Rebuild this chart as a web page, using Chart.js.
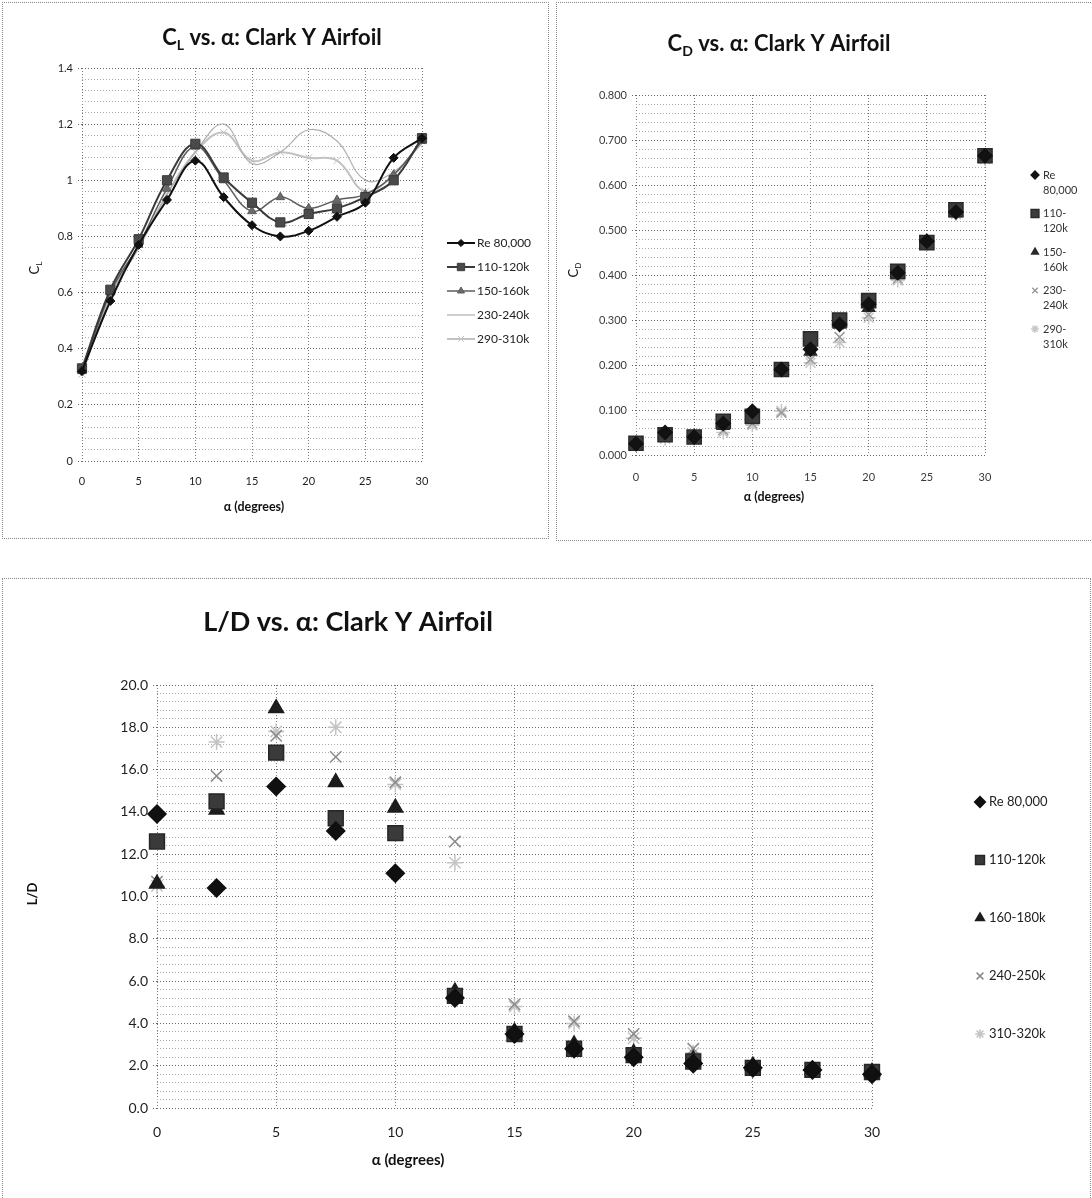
<!DOCTYPE html>
<html>
<head>
<meta charset="utf-8">
<title>Clark Y Airfoil</title>
<script src="https://cdn.jsdelivr.net/npm/chart.js@4.4.1/dist/chart.umd.min.js"></script>
<style>
  html, body { margin: 0; padding: 0; background: #fff; }
  body { position: relative; width: 1092px; height: 1198px; overflow: hidden; }
  canvas { position: absolute; }
  .frame { position: absolute; border: 1px dotted #8a8a8a; box-sizing: border-box; pointer-events: none; }
</style>
</head>
<body>
<canvas id="clChart" width="546" height="536" style="left:2px;top:2px"></canvas>
<canvas id="cdChart" width="534" height="538" style="left:556px;top:2px"></canvas>
<canvas id="ldChart" width="1088" height="620" style="left:2px;top:578px"></canvas>
<div class="frame" style="left:2px;top:2px;width:547px;height:537px"></div>
<div class="frame" style="left:556px;top:2px;width:537px;height:539px"></div>
<div class="frame" style="left:2px;top:578px;width:1089px;height:624px"></div>

<script>
// angle of attack, degrees
const alpha = [0, 2.5, 5, 7.5, 10, 12.5, 15, 17.5, 20, 22.5, 25, 27.5, 30];

// lift coefficient
const clLabels = ['Re 80,000', '110-120k', '150-160k', '230-240k', '290-310k'];
const clRe80 = [0.32, 0.57, 0.77, 0.93, 1.07, 0.94, 0.84, 0.80, 0.82, 0.87, 0.92, 1.08, 1.15];
const cl110 = [0.33, 0.61, 0.79, 1.00, 1.13, 1.01, 0.92, 0.85, 0.88, 0.90, 0.94, 1.00, 1.15];
const cl150 = [0.32, 0.60, 0.77, 0.97, 1.12, 1.00, 0.89, 0.94, 0.90, 0.93, 0.95, 1.02, 1.14];
const cl230 = [0.31, 0.59, 0.76, 0.95, 1.10, 1.20, 1.06, 1.10, 1.18, 1.14, 1.00, 1.03, 1.13];
const cl290 = [0.31, 0.59, 0.76, 0.95, 1.10, 1.17, 1.07, 1.10, 1.08, 1.07, 0.96, 1.02, 1.14];

// drag coefficient
const cdLabels = ['Re 80,000', '110-120k', '150-160k', '230-240k', '290-310k'];
const cdRe80 = [0.025, 0.050, 0.040, 0.070, 0.097, 0.190, 0.235, 0.290, 0.335, 0.405, 0.475, 0.540, 0.665];
const cd110 = [0.026, 0.045, 0.040, 0.075, 0.086, 0.190, 0.258, 0.300, 0.343, 0.408, 0.472, 0.545, 0.665];
const cd150 = [0.025, 0.045, 0.040, 0.065, 0.078, 0.188, 0.230, 0.290, 0.327, 0.400, 0.470, 0.538, 0.660];
const cd230 = [0.024, 0.040, 0.038, 0.055, 0.070, 0.094, 0.212, 0.262, 0.312, 0.392, 0.470, 0.540, 0.660];
const cd290 = [0.023, 0.036, 0.036, 0.050, 0.066, 0.098, 0.205, 0.250, 0.305, 0.388, 0.468, 0.535, 0.658];

// lift to drag ratio
const ldLabels = ['Re 80,000', '110-120k', '160-180k', '240-250k', '310-320k'];
const ldRe80 = [13.9, 10.4, 15.2, 13.1, 11.1, 5.2, 3.5, 2.8, 2.4, 2.1, 1.9, 1.8, 1.6];
const ld110 = [12.6, 14.5, 16.8, 13.7, 13.0, 5.3, 3.5, 2.8, 2.5, 2.2, 1.9, 1.8, 1.7];
const ld160 = [10.6, 14.1, 18.9, 15.4, 14.2, 5.5, 3.6, 3.0, 2.6, 2.3, 2.0, 1.8, 1.7];
const ld240 = [10.7, 15.7, 17.6, 16.6, 15.4, 12.6, 4.9, 4.1, 3.5, 2.8, 2.0, 1.9, 1.7];
const ld310 = [10.5, 17.3, 17.8, 18.0, 15.3, 11.6, 4.8, 4.0, 3.3, 2.6, 1.9, 1.8, 1.6];

Chart.defaults.font.family = 'Lato, "Open Sans", sans-serif';
Chart.defaults.color = '#1e1e1e';

const pairs = ys => alpha.map((a, i) => ({ x: a, y: ys[i] }));
const isMultiple = (v, step) => Math.abs(v / step - Math.round(v / step)) < 1e-6;

// title / axis titles with subscripts, drawn as text segments
const richText = {
  id: 'richText',
  afterDraw(chart, args, opts) {
    const ctx = chart.ctx;
    (opts.items || []).forEach(it => {
      const size = it.size;
      const subSize = Math.round(size * 0.62);
      const fontFor = sub => `${it.weight || 'normal'} ${sub ? subSize : size}px ${it.family || 'Lato, sans-serif'}`;
      ctx.save();
      ctx.translate(it.x, it.y);
      if (it.rotate) ctx.rotate(it.rotate);
      ctx.fillStyle = it.color || '#111';
      ctx.textBaseline = 'alphabetic';
      let w = 0;
      it.parts.forEach(([t, sub]) => { ctx.font = fontFor(sub); w += ctx.measureText(t).width; });
      let x = -w / 2;
      it.parts.forEach(([t, sub]) => {
        ctx.font = fontFor(sub);
        ctx.fillText(t, x, size * 0.36 + (sub ? size * 0.22 : 0));
        x += ctx.measureText(t).width;
      });
      ctx.restore();
    });
  }
};

function wrapLabel(ctx, label, maxWidth) {
  if (!maxWidth || ctx.measureText(label).width <= maxWidth) return [label];
  let cut = label.lastIndexOf(' ');
  if (cut > 0) return [label.slice(0, cut), label.slice(cut + 1)];
  cut = label.indexOf('-');
  if (cut > 0) return [label.slice(0, cut + 1), label.slice(cut + 1)];
  return [label];
}

// legend column at the right of the plot
const sideLegend = {
  id: 'sideLegend',
  afterDraw(chart, args, o) {
    if (!o || o.x === undefined) return;
    const ctx = chart.ctx;
    ctx.save();
    ctx.font = o.font;
    ctx.textBaseline = 'middle';
    chart.data.datasets.forEach((ds, i) => {
      const y = o.y + i * o.step;
      if (o.lineLength) {
        ctx.strokeStyle = ds.borderColor;
        ctx.lineWidth = ds.borderWidth;
        ctx.beginPath();
        ctx.moveTo(o.x - o.lineLength / 2, y);
        ctx.lineTo(o.x + o.lineLength / 2, y);
        ctx.stroke();
      }
      if (ds.pointRadius > 0) {
        ctx.fillStyle = ds.pointBackgroundColor;
        ctx.strokeStyle = ds.pointBorderColor;
        ctx.lineWidth = ds.pointBorderWidth;
        Chart.helpers.drawPoint(ctx, {
          pointStyle: ds.pointStyle, rotation: 0,
          radius: ds.pointRadius * (o.radiusScale || 1),
          borderWidth: ds.pointBorderWidth
        }, o.x, y);
      }
      ctx.fillStyle = o.color;
      ctx.font = o.font;
      wrapLabel(ctx, ds.label, o.maxWidth).forEach((t, k) => ctx.fillText(t, o.textX, y + k * (o.lineGap || 0)));
    });
    ctx.restore();
  }
};

// y axis with minor dotted grid lines between labelled majors
function yAxis(min, max, minor, major, fmt, fontSize, width, color) {
  return {
    type: 'linear', min, max,
    afterFit: s => { s.width = width; },
    border: { display: false, dash: [1, 2] },
    grid: {
      color: c => isMultiple(c.tick.value, major) ? '#666666' : '#ababab',
      tickColor: c => isMultiple(c.tick.value, major) ? '#666666' : 'rgba(0,0,0,0)',
      tickLength: 4,
      tickBorderDash: [1, 2],
      lineWidth: 1
    },
    ticks: {
      stepSize: minor, autoSkip: false, padding: 5,
      color: color || '#1e1e1e',
      font: { size: fontSize },
      callback: v => isMultiple(v, major) ? fmt(v) : ''
    }
  };
}

function xAxis(height, fontSize, pad, color) {
  return {
    type: 'linear', min: 0, max: 30,
    afterFit: s => { s.height = height; },
    border: { display: false, dash: [1, 2] },
    grid: { color: '#777777', tickLength: 0, lineWidth: 1 },
    ticks: { stepSize: 5, padding: pad, color: color || '#1e1e1e', font: { size: fontSize } }
  };
}

const baseOptions = () => ({
  responsive: false,
  animation: false,
  events: [],
  plugins: { legend: { display: false }, tooltip: { enabled: false } }
});

// ---- C_L vs alpha : smoothed lines with markers ----
const clStyles = [
  { line: '#111111', width: 2, point: 'rectRot', r: 4.5, fill: '#111111' },
  { line: '#3a3a3a', width: 2, point: 'rect', r: 6.5, fill: '#4a4a4a' },
  { line: '#5c5c5c', width: 1.5, point: 'triangle', r: 5, fill: '#6a6a6a' },
  { line: '#b0b0b0', width: 1.2, point: 'circle', r: 0, fill: '#b0b0b0' },
  { line: '#c2c2c2', width: 2, point: 'crossRot', r: 5, fill: '#c2c2c2' }
];
const clSeries = [clRe80, cl110, cl150, cl230, cl290];

new Chart(document.getElementById('clChart'), {
  type: 'line',
  data: {
    datasets: clSeries.map((ys, i) => ({
      label: clLabels[i],
      data: pairs(ys),
      clip: false,
      borderColor: clStyles[i].line,
      borderWidth: clStyles[i].width,
      tension: 0.4,
      pointStyle: clStyles[i].point,
      pointRadius: clStyles[i].r,
      pointBackgroundColor: clStyles[i].fill,
      pointBorderColor: clStyles[i].line,
      pointBorderWidth: 1
    }))
  },
  options: Object.assign(baseOptions(), {
    layout: { padding: { top: 66, right: 126, left: 0, bottom: 0 } },
    scales: {
      x: xAxis(77, 11, 14),
      y: yAxis(0, 1.4, 0.04, 0.2, v => String(+v.toFixed(1)), 11, 80)
    },
    plugins: {
      legend: { display: false }, tooltip: { enabled: false },
      sideLegend: { x: 459, y: 241, step: 24, lineLength: 28, textX: 475, font: '12px Lato, sans-serif', color: '#222', radiusScale: 0.8 },
      richText: { items: [
        { x: 270, y: 35, size: 22, weight: 'bold', parts: [['C', 0], ['L', 1], [' vs. α: Clark Y Airfoil', 0]] },
        { x: 32, y: 266, size: 13, rotate: -Math.PI / 2, parts: [['C', 0], ['L', 1]] },
        { x: 252, y: 504, size: 12.5, weight: 'bold', parts: [['α (degrees)', 0]] }
      ] }
    }
  }),
  plugins: [sideLegend, richText]
});

// ---- C_D vs alpha : markers only ----
const cdStyles = [
  { point: 'rectRot', r: 7, fill: '#121212', edge: '#121212' },
  { point: 'rect', r: 10, fill: '#3c3c3c', edge: '#2a2a2a' },
  { point: 'triangle', r: 7, fill: '#2a2a2a', edge: '#2a2a2a' },
  { point: 'crossRot', r: 7, fill: '#9a9a9a', edge: '#9a9a9a' },
  { point: 'star', r: 7, fill: '#c6c6c6', edge: '#c6c6c6' }
];
const cdSeries = [cdRe80, cd110, cd150, cd230, cd290];

new Chart(document.getElementById('cdChart'), {
  type: 'scatter',
  data: {
    datasets: cdSeries.map((ys, i) => ({
      label: cdLabels[i],
      data: pairs(ys),
      clip: false,
      pointStyle: cdStyles[i].point,
      pointRadius: cdStyles[i].r,
      pointBackgroundColor: cdStyles[i].fill,
      pointBorderColor: cdStyles[i].edge,
      pointBorderWidth: 1.5
    }))
  },
  options: Object.assign(baseOptions(), {
    layout: { padding: { top: 93, right: 105, left: 0, bottom: 0 } },
    scales: {
      x: xAxis(85, 11, 16, '#3a3a3a'),
      y: yAxis(0, 0.8, 0.02, 0.1, v => v.toFixed(3), 11, 80, '#3a3a3a')
    },
    plugins: {
      legend: { display: false }, tooltip: { enabled: false },
      sideLegend: { x: 479, y: 173, step: 38.5, textX: 487, maxWidth: 36, lineGap: 15, font: '11px Lato, sans-serif', color: '#333', radiusScale: 0.55 },
      richText: { items: [
        { x: 223, y: 41, size: 22, weight: 'bold', parts: [['C', 0], ['D', 1], [' vs. α: Clark Y Airfoil', 0]] },
        { x: 17, y: 268, size: 13, rotate: -Math.PI / 2, parts: [['C', 0], ['D', 1]] },
        { x: 218, y: 494, size: 12.5, weight: 'bold', parts: [['α (degrees)', 0]] }
      ] }
    }
  }),
  plugins: [sideLegend, richText]
});

// ---- L/D vs alpha : markers only ----
const ldStyles = [
  { point: 'rectRot', r: 9, fill: '#101010', edge: '#101010' },
  { point: 'rect', r: 10.5, fill: '#3a3a3a', edge: '#262626' },
  { point: 'triangle', r: 8.5, fill: '#1c1c1c', edge: '#1c1c1c' },
  { point: 'crossRot', r: 8, fill: '#8a8a8a', edge: '#8a8a8a' },
  { point: 'star', r: 8, fill: '#c4c4c4', edge: '#c4c4c4' }
];
const ldSeries = [ldRe80, ld110, ld160, ld240, ld310];

new Chart(document.getElementById('ldChart'), {
  type: 'scatter',
  data: {
    datasets: ldSeries.map((ys, i) => ({
      label: ldLabels[i],
      data: pairs(ys),
      clip: false,
      pointStyle: ldStyles[i].point,
      pointRadius: ldStyles[i].r,
      pointBackgroundColor: ldStyles[i].fill,
      pointBorderColor: ldStyles[i].edge,
      pointBorderWidth: 1.5
    }))
  },
  options: Object.assign(baseOptions(), {
    layout: { padding: { top: 107, right: 218, left: 0, bottom: 0 } },
    scales: {
      x: xAxis(90, 14, 16),
      y: yAxis(0, 20, 0.4, 2, v => v.toFixed(1), 14, 155)
    },
    plugins: {
      legend: { display: false }, tooltip: { enabled: false },
      sideLegend: { x: 978, y: 224, step: 58, textX: 987, font: '13px Lato, sans-serif', color: '#222', radiusScale: 0.6 },
      richText: { items: [
        { x: 346, y: 43, size: 27, weight: 'bold', parts: [['L/D vs. α: Clark Y Airfoil', 0]] },
        { x: 30, y: 316, size: 13, weight: 'bold', rotate: -Math.PI / 2, parts: [['L/D', 0]] },
        { x: 406, y: 582, size: 15, weight: 'bold', parts: [['α (degrees)', 0]] }
      ] }
    }
  }),
  plugins: [sideLegend, richText]
});
</script>
</body>
</html>
